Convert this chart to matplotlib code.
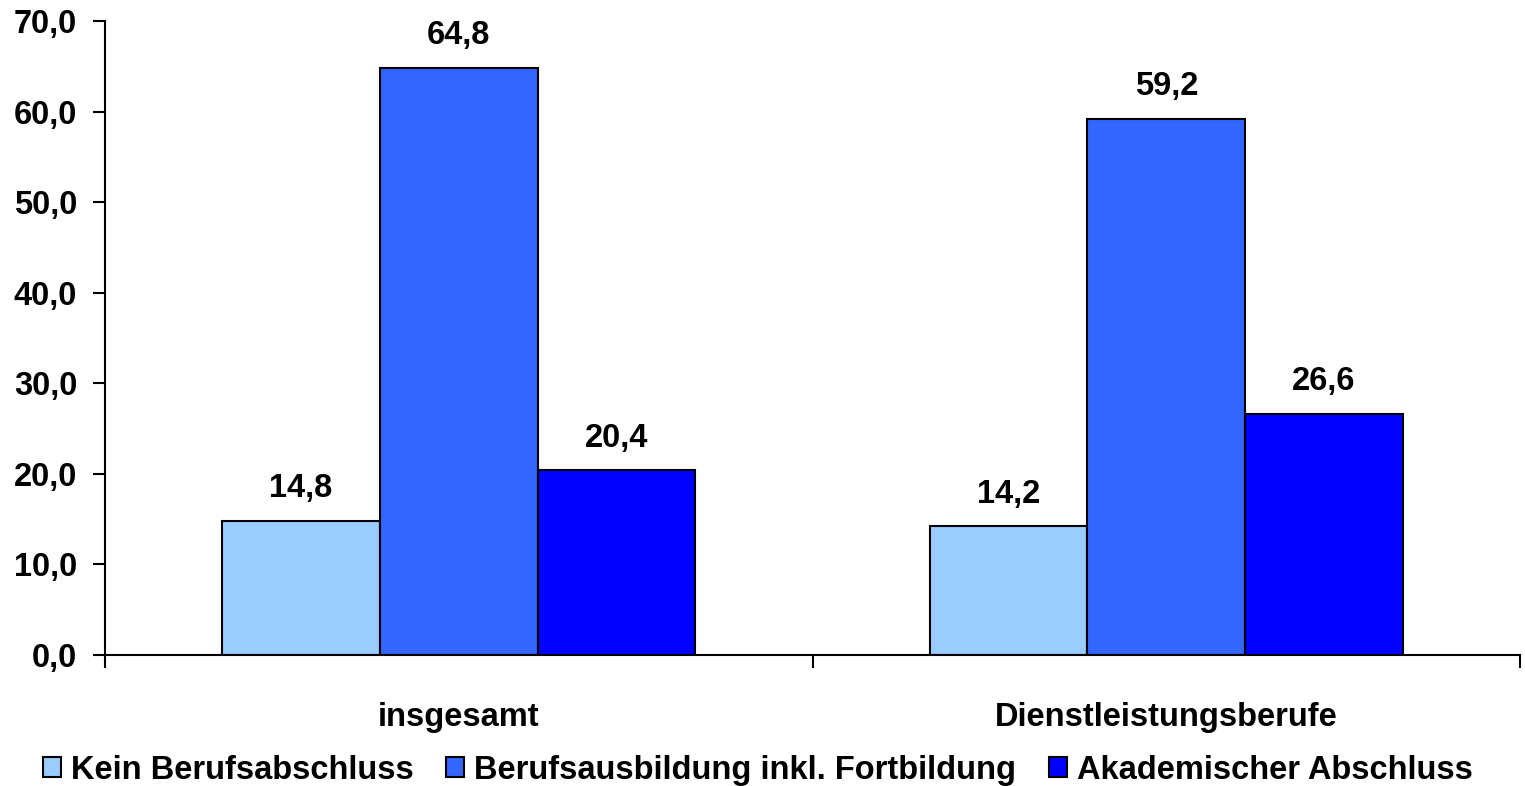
import numpy as np
from matplotlib import pyplot as plt
import matplotlib.ticker as mticker

categories = ["insgesamt", "Dienstleistungsberufe"]
series = ["Kein Berufsabschluss", "Berufsausbildung inkl. Fortbildung", "Akademischer Abschluss"]
kein = [14.8, 14.2]
ausbildung = [64.8, 59.2]
akademisch = [20.4, 26.6]
colors = ['#99CCFF', '#3366FF', '#0000FF']

plt.rcParams['font.family'] = ['Liberation Sans', 'DejaVu Sans']
plt.rcParams['font.weight'] = 'bold'

def de(v):
    return ('%.1f' % v).replace('.', ',')

fig = plt.figure(figsize=(15.25, 7.86), dpi=100)
ax = fig.add_axes([105/1525, 131/786, 1415/1525, 634/786])

x = np.arange(len(categories))
w = 0.223
for i, (vals, lab) in enumerate(zip([kein, ausbildung, akademisch], series)):
    bars = ax.bar(x + (i - 1) * w, vals, w, color=colors[i], edgecolor='black',
                  linewidth=1.5, label=lab)
    ax.bar_label(bars, labels=[de(v) for v in vals], padding=12,
                 fontsize=23.5, fontweight='bold')

ax.set_xlim(-0.5, 1.5)
ax.set_ylim(0, 70)
ax.yaxis.set_major_locator(mticker.MultipleLocator(10))
ax.yaxis.set_major_formatter(mticker.FuncFormatter(lambda v, p: de(v)))
ax.set_xticks(x)
ax.set_xticklabels(categories)
ax.set_xticks([-0.5, 0.5, 1.5], minor=True)
ax.tick_params(axis='x', which='major', length=0, pad=34, labelsize=23.5)
ax.tick_params(axis='x', which='minor', length=9, width=1.5, direction='out')
ax.tick_params(axis='y', length=9, width=1.5, pad=11, labelsize=23.5)
for lbl in ax.get_xticklabels() + ax.get_yticklabels():
    lbl.set_fontweight('bold')
ax.spines['top'].set_visible(False)
ax.spines['right'].set_visible(False)
ax.spines['left'].set_linewidth(1.5)
ax.spines['bottom'].set_linewidth(1.5)
ax.spines['bottom'].set_zorder(5)

leg = fig.legend(loc='center', bbox_to_anchor=(0.497, 0.02), ncol=3, frameon=False,
                 handlelength=0.55, handleheight=0.55, handletextpad=0.3,
                 columnspacing=1.0, prop={'weight': 'bold', 'size': 23.5})

plt.savefig('out.png', dpi=100)
plt.close(fig)
